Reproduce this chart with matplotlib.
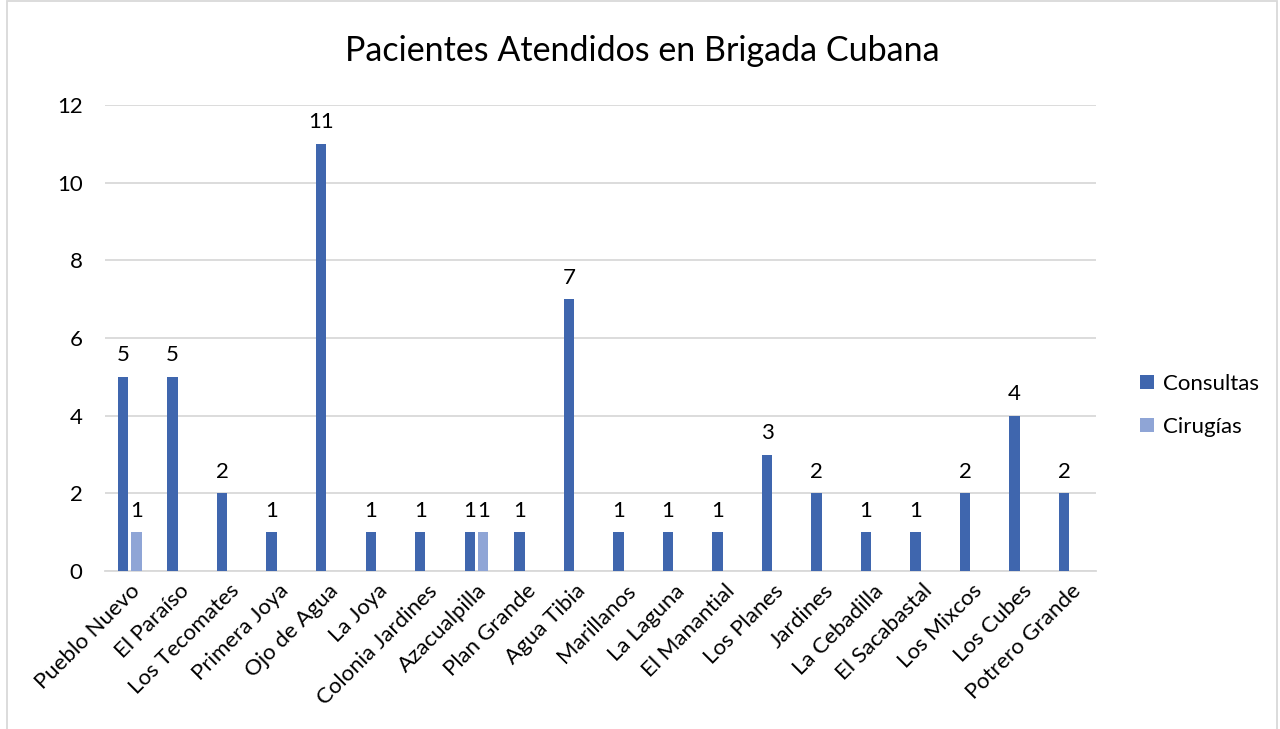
import numpy as np
import matplotlib
matplotlib.use('Agg')
import matplotlib.pyplot as plt
from matplotlib.patches import Rectangle

plt.rcParams['font.family'] = ['Lato', 'DejaVu Sans']

# data
lugares = ['Pueblo Nuevo', 'El Paraíso', 'Los Tecomates', 'Primera Joya', 'Ojo de Agua',
           'La Joya', 'Colonia Jardines', 'Azacualpilla', 'Plan Grande', 'Agua Tibia',
           'Marillanos', 'La Laguna', 'El Manantial', 'Los Planes', 'Jardines',
           'La Cebadilla', 'El Sacabastal', 'Los Mixcos', 'Los Cubes', 'Potrero Grande']
consultas = [5, 5, 2, 1, 11, 1, 1, 1, 1, 7, 1, 1, 1, 3, 2, 1, 1, 2, 4, 2]
cirugias = [1, None, None, None, None, None, None, 1, None, None,
            None, None, None, None, None, None, None, None, None, None]

azul = '#3F66AE'
celeste = '#8FA5D6'
fs = 16

fig = plt.figure(figsize=(12.8, 7.29), dpi=100)
ax = fig.add_axes([0.082, 0.2167, 0.774, 0.6393])

# light border round the chart (bottom edge falls outside the picture)
fig.patches.append(Rectangle((0.0055, -0.05), 0.9925, 1.048, transform=fig.transFigure,
                             fill=False, edgecolor='#d9d9d9', linewidth=1.3))

x = np.arange(len(lugares))
w = 0.21
off = 0.135

ax.bar(x - off, consultas, width=w, color=azul, label='Consultas', zorder=3)
cir_x = [xi + off for xi, v in zip(x, cirugias) if v is not None]
cir_y = [v for v in cirugias if v is not None]
ax.bar(cir_x, cir_y, width=w, color=celeste, label='Cirugías', zorder=3)

for xi, v in zip(x, consultas):
    ax.text(xi - off, v + 0.3, str(v), ha='center', va='bottom', fontsize=fs)
for xi, v in zip(cir_x, cir_y):
    ax.text(xi, v + 0.3, str(v), ha='center', va='bottom', fontsize=fs)

ax.set_xlim(-0.5, len(lugares) - 0.5)
ax.set_ylim(0, 12)
ax.set_yticks(range(0, 13, 2))
ax.yaxis.grid(True, color='#d9d9d9', linewidth=1.3, zorder=0)
ax.set_axisbelow(True)
for s in ['top', 'right', 'left']:
    ax.spines[s].set_visible(False)
ax.spines['bottom'].set_color('#d9d9d9')
ax.spines['bottom'].set_linewidth(1.3)
ax.tick_params(axis='both', length=0, labelsize=fs)
ax.tick_params(axis='y', pad=16)
ax.tick_params(axis='x', pad=7)
ax.set_xticks(x)
ax.set_xticklabels(lugares, rotation=45, ha='right', rotation_mode='anchor')

fig.text(0.502, 0.93, 'Pacientes Atendidos en Brigada Cubana', ha='center', va='center', fontsize=24.5)

ax.legend(loc='center left', bbox_to_anchor=(1.025, 0.355), frameon=False, fontsize=fs,
          handlelength=0.6, handleheight=0.6, labelspacing=1.05, handletextpad=0.4)

fig.savefig('out.png', dpi=100)
